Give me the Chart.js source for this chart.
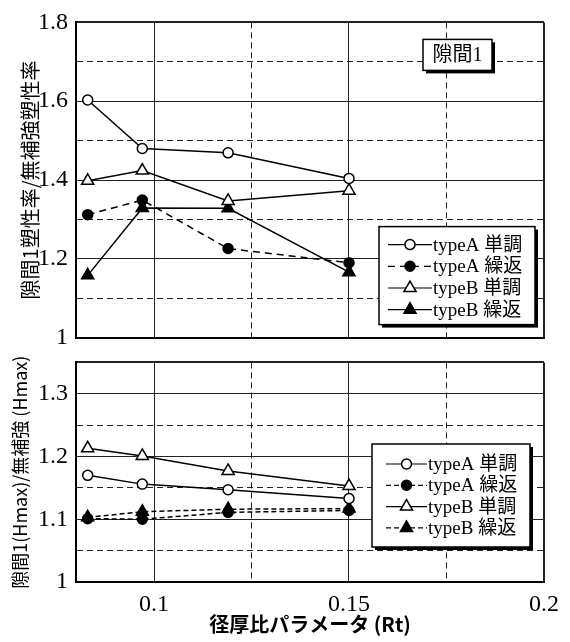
<!DOCTYPE html>
<html>
<head>
<meta charset="utf-8">
<script src="https://cdn.jsdelivr.net/npm/chart.js@4.4.0/dist/chart.umd.min.js"></script>
<style>
  body { margin: 0; background: #fff; }
  #wrap { position: relative; width: 570px; height: 642px; }
  canvas { position: absolute; left: 0; }
  #topChart { top: 0; }
  #bottomChart { top: 340px; }
</style>
</head>
<body>
<div id="wrap">
  <canvas id="bottomChart" width="570" height="302"></canvas>
  <canvas id="topChart" width="570" height="360"></canvas>
</div>
<script>
// 径厚比パラメータ Rt
const rt = [0.083, 0.097, 0.119, 0.15];
const seriesNames = ['typeA 単調', 'typeA 繰返', 'typeB 単調', 'typeB 繰返'];

// 隙間1塑性率 / 無補強塑性率
const ductA_mono  = [1.603, 1.480, 1.469, 1.404];
const ductA_cyc   = [1.312, 1.349, 1.226, 1.190];
const ductB_mono  = [1.398, 1.424, 1.347, 1.373];
const ductB_cyc   = [1.158, 1.329, 1.328, 1.166];

// 隙間1(Hmax) / 無補強(Hmax)
const hmaxA_mono  = [1.170, 1.156, 1.147, 1.133];
const hmaxA_cyc   = [1.101, 1.100, 1.111, 1.114];
const hmaxB_mono  = [1.213, 1.201, 1.177, 1.153];
const hmaxB_cyc   = [1.103, 1.112, 1.116, 1.117];

const xTicks = [0.08, 0.1, 0.125, 0.15, 0.175, 0.2];
const xLabels = [0.1, 0.15, 0.2];
const yTopTicks = [1, 1.1, 1.2, 1.3, 1.4, 1.5, 1.6, 1.7, 1.8];
const yTopLabels = [1, 1.2, 1.4, 1.6, 1.8];
const yBotTicks = [1, 1.05, 1.1, 1.15, 1.2, 1.25, 1.3, 1.35];
const yBotLabels = [1, 1.1, 1.2, 1.3];

const serif = '"Liberation Serif", "Noto Sans CJK JP", serif';
const gothic = '"Noto Sans CJK JP", sans-serif';

function has(list, v) {
  return list.some(t => Math.abs(t - v) < 1e-6);
}

function pts(vals) {
  return vals.map((y, i) => ({x: rt[i], y: y}));
}

// marker / line style per series: open circle, filled circle, open triangle, filled triangle
function series(vals, i, dash) {
  const filled = i % 2 === 1;
  const tri = i >= 2;
  return {
    label: seriesNames[i],
    data: pts(vals),
    borderColor: '#000',
    borderWidth: 1.5,
    borderDash: dash,
    pointStyle: tri ? 'triangle' : 'circle',
    pointRadius: tri ? 7 : 5,
    pointBackgroundColor: filled ? '#000' : '#fff',
    pointBorderColor: '#000',
    pointBorderWidth: 1.5,
    tension: 0
  };
}

function drawMarker(ctx, ds, x, y) {
  ctx.fillStyle = ds.pointBackgroundColor;
  ctx.strokeStyle = ds.pointBorderColor;
  ctx.lineWidth = ds.pointBorderWidth;
  if (Chart.helpers && Chart.helpers.drawPoint) {
    Chart.helpers.drawPoint(ctx, {pointStyle: ds.pointStyle, radius: ds.pointRadius,
      rotation: 0, borderWidth: ds.pointBorderWidth}, x, y);
    return;
  }
  ctx.beginPath();
  if (ds.pointStyle === 'triangle') {
    const r = ds.pointRadius;
    ctx.moveTo(x, y - r);
    ctx.lineTo(x + r * 0.866, y + r / 2);
    ctx.lineTo(x - r * 0.866, y + r / 2);
    ctx.closePath();
  } else {
    ctx.arc(x, y, ds.pointRadius, 0, Math.PI * 2);
  }
  ctx.fill();
  ctx.stroke();
}

function shadowBox(ctx, left, top, w, h) {
  ctx.fillStyle = '#000';
  ctx.fillRect(left + 3, top + 3, w, h);
  ctx.fillStyle = '#fff';
  ctx.fillRect(left, top, w, h);
  ctx.lineWidth = 1.5;
  ctx.strokeStyle = '#000';
  ctx.strokeRect(left, top, w, h);
}

// legend box drawn inside the plot area, bottom right
const boxLegend = {
  id: 'boxLegend',
  afterDatasetsDraw(chart, args, o) {
    const ctx = chart.ctx, a = chart.chartArea;
    const left = a.right - o.right - o.width;
    const top = a.bottom - o.bottom - o.height;
    ctx.save();
    shadowBox(ctx, left, top, o.width, o.height);
    chart.data.datasets.forEach((ds, i) => {
      const y = top + o.firstRow + i * o.rowH;
      const x0 = left + o.lineStart, x1 = x0 + o.lineLen;
      ctx.strokeStyle = '#000';
      ctx.lineWidth = 1.2;
      ctx.setLineDash(ds.borderDash || []);
      ctx.beginPath();
      ctx.moveTo(x0, y);
      ctx.lineTo(x1, y);
      ctx.stroke();
      ctx.setLineDash([]);
      drawMarker(ctx, ds, (x0 + x1) / 2, y);
      ctx.fillStyle = '#000';
      ctx.font = '19px ' + serif;
      ctx.textBaseline = 'middle';
      ctx.textAlign = 'left';
      ctx.fillText(ds.label, x1 + 1, y + 1);
    });
    ctx.restore();
  }
};

// the 「隙間1」 tag in the upper plot
const caseTag = {
  id: 'caseTag',
  afterDatasetsDraw(chart, args, o) {
    if (!o.text) return;
    const ctx = chart.ctx, a = chart.chartArea;
    const left = a.right - o.right - o.width;
    const top = a.top + o.top;
    ctx.save();
    shadowBox(ctx, left, top, o.width, o.height);
    ctx.fillStyle = '#000';
    ctx.font = '20px ' + serif;
    ctx.textAlign = 'center';
    ctx.textBaseline = 'middle';
    ctx.fillText(o.text, left + o.width / 2, top + o.height / 2 + 1);
    ctx.restore();
  }
};

function gridFor(ticks, labeled) {
  return {
    grid: {
      color: '#222',
      drawTicks: false,
      lineWidth: c => (c.index === 0 || c.index === ticks.length - 1) ? 2 : 1
    },
    border: {
      display: true,
      color: '#000',
      width: 2,
      dash: c => {
        if (!c.tick) return [];
        if (c.index === 0 || c.index === ticks.length - 1) return [];
        return has(labeled, c.tick.value) ? [] : [6, 4];
      }
    }
  };
}

function makeChart(id, sets, opts) {
  const xg = gridFor(xTicks, xLabels);
  const yg = gridFor(opts.yTicks, opts.yLabels);
  return new Chart(document.getElementById(id), {
    type: 'line',
    data: {datasets: sets},
    plugins: [boxLegend, caseTag],
    options: {
      responsive: false,
      animation: false,
      layout: {padding: {top: opts.padTop, right: 26, left: 0, bottom: 0}},
      plugins: {
        legend: {display: false},
        tooltip: {enabled: false},
        boxLegend: opts.legend,
        caseTag: opts.tag || {}
      },
      scales: {
        x: {
          type: 'linear',
          min: 0.08,
          max: 0.2,
          afterBuildTicks: s => { s.ticks = xTicks.map(v => ({value: v})); },
          afterFit: s => { s.height = opts.xHeight; },
          grid: xg.grid,
          border: xg.border,
          ticks: {
            display: opts.showX,
            autoSkip: false,
            maxRotation: 0,
            padding: 8,
            color: '#000',
            font: {family: serif, size: 24},
            callback: v => has(xLabels, v) ? String(v) : ''
          },
          title: {
            display: opts.showX,
            text: '径厚比パラメータ (Rt)',
            color: '#000',
            font: {family: gothic, size: 20, weight: 'bold'},
            padding: {top: 0, bottom: 6}
          }
        },
        y: {
          type: 'linear',
          min: opts.yTicks[0],
          max: opts.yTicks[opts.yTicks.length - 1],
          afterBuildTicks: s => { s.ticks = opts.yTicks.map(v => ({value: v})); },
          afterFit: s => { s.width = 76; },
          grid: yg.grid,
          border: yg.border,
          ticks: {
            autoSkip: false,
            padding: 8,
            color: '#000',
            font: {family: serif, size: 24},
            callback: v => has(opts.yLabels, v) ? String(v) : ''
          },
          title: {
            display: true,
            text: opts.yTitle,
            color: '#000',
            font: {family: gothic, size: opts.yTitleSize},
            padding: {top: opts.yTitlePad, bottom: 0}
          }
        }
      }
    }
  });
}

makeChart('topChart', [
  series(ductA_mono, 0, []),
  series(ductA_cyc, 1, [7, 5]),
  series(ductB_mono, 2, []),
  series(ductB_cyc, 3, [])
], {
  padTop: 17, xHeight: 20, showX: false,
  yTicks: yTopTicks, yLabels: yTopLabels,
  yTitle: '隙間1塑性率/無補強塑性率', yTitleSize: 20, yTitlePad: 18,
  legend: {right: 9, bottom: 13, width: 156, height: 98, firstRow: 18, rowH: 21.7, lineStart: 9, lineLen: 44},
  tag: {text: '隙間1', right: 52, top: 17, width: 69, height: 31}
});

makeChart('bottomChart', [
  series(hmaxA_mono, 0, []),
  series(hmaxA_cyc, 1, [5, 3]),
  series(hmaxB_mono, 2, []),
  series(hmaxB_cyc, 3, [5, 3])
], {
  padTop: 16, xHeight: 60, showX: true,
  yTicks: yBotTicks, yLabels: yBotLabels,
  yTitle: '隙間1(Hmax)/無補強 (Hmax)', yTitleSize: 18, yTitlePad: 9,
  legend: {right: 14, bottom: 35, width: 158, height: 103, firstRow: 20, rowH: 21.3, lineStart: 14, lineLen: 41}
});
</script>
</body>
</html>
